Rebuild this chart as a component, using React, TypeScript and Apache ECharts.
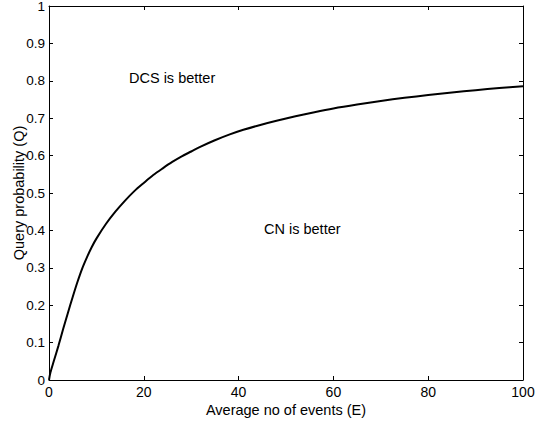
import React, { useEffect, useRef } from "react";
import * as echarts from "echarts";

const eventsE = [0, 0.3, 1, 2, 3, 4, 5, 6, 7, 8, 9, 10, 12, 14, 16, 18, 20, 22, 24, 26, 28, 30, 32, 35, 38, 41, 44, 48, 52, 56, 60, 65, 70, 75, 80, 85, 90, 95, 100];
const queryQ = [0, 0.02, 0.05, 0.092, 0.137, 0.18, 0.222, 0.262, 0.298, 0.328, 0.355, 0.378, 0.417, 0.45, 0.479, 0.505, 0.527, 0.548, 0.566, 0.583, 0.598, 0.611, 0.624, 0.641, 0.656, 0.669, 0.68, 0.693, 0.705, 0.716, 0.726, 0.7365, 0.746, 0.7545, 0.762, 0.769, 0.775, 0.7805, 0.7855];

const xTitle = "Average no of events (E)";
const yTitle = "Query probability (Q)";
const notes = [
  { text: "DCS is better", x: 129, y: 78 },
  { text: "CN is better", x: 264, y: 229 },
];

const FONT = "Arial, 'Liberation Sans', Helvetica, sans-serif";

export default function App() {
  const ref = useRef<HTMLDivElement>(null);
  useEffect(() => {
    if (!ref.current) return;
    const chart = echarts.init(ref.current, undefined, { renderer: "svg" });
    const axisCommon = {
      type: "value" as const,
      axisLine: { show: true, onZero: false, lineStyle: { color: "#000", width: 1 } },
      axisTick: { show: true, inside: true, length: 4, lineStyle: { color: "#000" } },
      splitLine: { show: false },
    };
    chart.setOption({
      animation: false,
      backgroundColor: "#fff",
      textStyle: { fontFamily: FONT },
      grid: { left: 49, top: 6, right: 26, bottom: 41, containLabel: false, outerBoundsMode: "none" },
      xAxis: [
        {
          ...axisCommon,
          position: "bottom",
          min: 0,
          max: 100,
          interval: 20,
          axisLabel: { color: "#000", fontSize: 14, margin: 5, fontFamily: FONT },
          name: xTitle,
          nameLocation: "middle",
          nameGap: 22,
          nameMoveOverlap: false,
          nameTextStyle: { color: "#000", fontSize: 14.5, fontFamily: FONT },
        },
        {
          ...axisCommon,
          position: "top",
          min: 0,
          max: 100,
          interval: 20,
          axisLabel: { show: false },
        },
      ],
      yAxis: [
        {
          ...axisCommon,
          position: "left",
          min: 0,
          max: 1,
          interval: 0.1,
          axisLabel: { color: "#000", fontSize: 13.5, margin: 4, fontFamily: FONT },
          name: yTitle,
          nameLocation: "middle",
          nameGap: 23,
          nameMoveOverlap: false,
          nameTextStyle: { color: "#000", fontSize: 14.5, fontFamily: FONT },
        },
        {
          ...axisCommon,
          position: "right",
          min: 0,
          max: 1,
          interval: 0.1,
          axisLabel: { show: false },
        },
      ],
      series: [
        {
          type: "line",
          data: eventsE.map((e, i) => [e, queryQ[i]]),
          smooth: 0.3,
          showSymbol: false,
          lineStyle: { color: "#000", width: 2 },
          silent: true,
        },
      ],
      graphic: notes.map((n) => ({
        type: "text",
        left: n.x,
        top: n.y - 8,
        style: { text: n.text, fill: "#000", fontSize: 14.5, fontFamily: FONT },
      })),
    });
    return () => chart.dispose();
  }, []);
  return (
    <div
      ref={ref}
      style={{ position: "fixed", left: 0, top: 0, width: 549, height: 421, background: "#fff" }}
    />
  );
}
